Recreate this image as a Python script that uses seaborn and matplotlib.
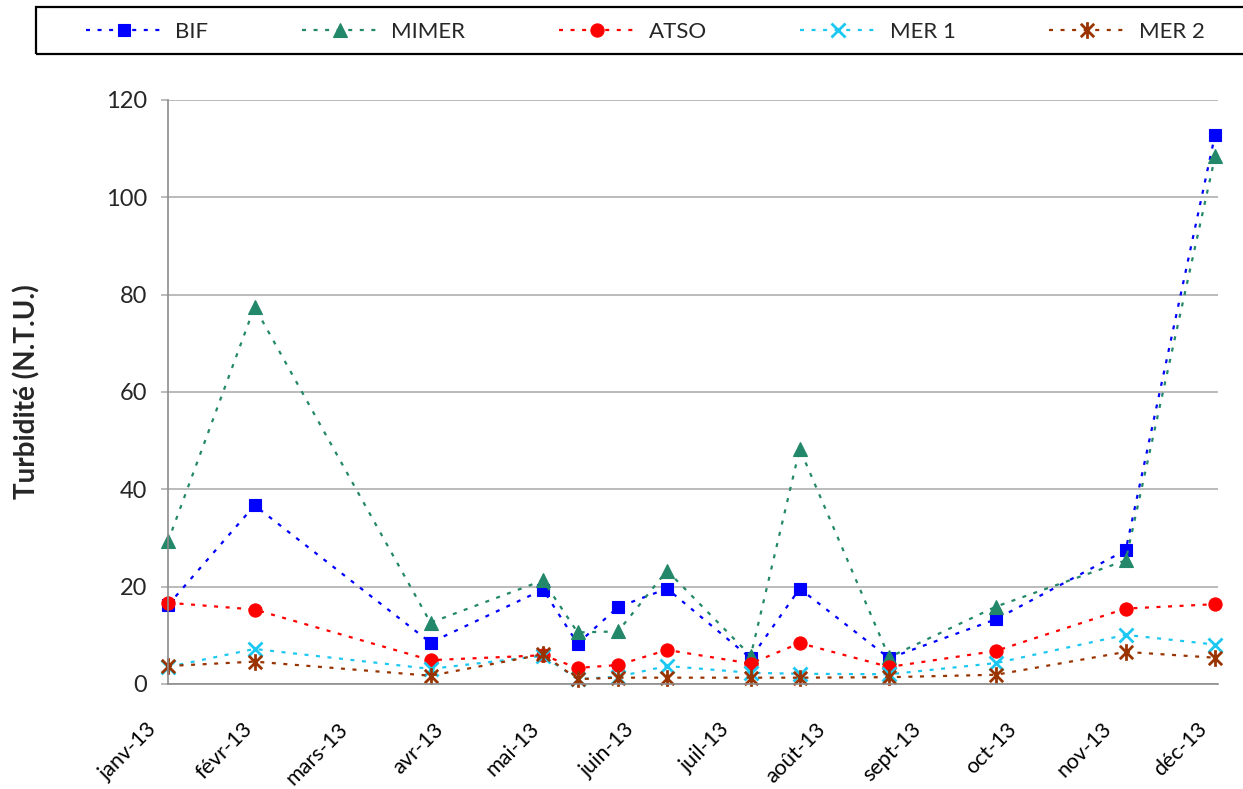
import numpy as np
import pandas as pd
import matplotlib
matplotlib.use("Agg")
import matplotlib.pyplot as plt
import matplotlib.dates as mdates
from matplotlib.path import Path
from matplotlib.patches import Rectangle
import seaborn as sns

# Sampling dates and turbidity readings (N.T.U.) per station
sample_dates = ["2013-01-01", "2013-01-31", "2013-04-02", "2013-05-11", "2013-05-23",
                "2013-06-06", "2013-06-23", "2013-07-22", "2013-08-08", "2013-09-08",
                "2013-10-15", "2013-11-29", "2013-12-30"]
bif = [16.2, 36.7, 8.5, 19.4, 8.3, 15.8, 19.6, 5.3, 19.6, 5.3, 13.3, 27.5, 112.9]
mimer = [29.3, 77.5, 12.6, 21.3, 10.6, 10.8, 23.3, 5.8, 48.3, 5.5, 15.9, 25.4, 108.4]
atso = [16.7, 15.3, 4.9, 5.9, 3.3, 3.9, 7.0, 4.2, 8.4, 3.5, 6.8, 15.5, 16.4]
mer1 = [3.5, 7.2, 3.1, 5.8, 1.0, 1.5, 3.7, 2.3, 2.1, 2.0, 4.3, 10.1, 8.1]
mer2 = [3.7, 4.6, 1.7, 6.1, 1.0, 1.3, 1.3, 1.3, 1.3, 1.4, 1.9, 6.6, 5.4]

series_names = ["BIF", "MIMER", "ATSO", "MER 1", "MER 2"]
month_labels = ["janv-13", "févr-13", "mars-13", "avr-13", "mai-13", "juin-13",
                "juil-13", "août-13", "sept-13", "oct-13", "nov-13", "déc-13"]
axis_start, axis_end = "2013-01-01", "2013-12-31"
y_ticks = [0, 20, 40, 60, 80, 100, 120]

sns.set_theme(style="white")
plt.rcParams["font.family"] = ["Lato", "DejaVu Sans"]

W, H = 1243, 789
fig = plt.figure(figsize=(W / 100, H / 100), dpi=100)
ax = fig.add_axes([168 / W, 1 - 684 / H, 1050 / W, 584 / H])

# Star marker: an X crossed by a vertical bar
star = Path([(0, -1), (0, 1), (-0.8, -0.8), (0.8, 0.8), (-0.8, 0.8), (0.8, -0.8)],
            [Path.MOVETO, Path.LINETO, Path.MOVETO, Path.LINETO, Path.MOVETO, Path.LINETO])

styles = [
    dict(color="#0000FF", marker="s", markersize=9, markeredgewidth=0.8),
    dict(color="#23886A", marker="^", markersize=10.5, markeredgewidth=0.8),
    dict(color="#FF0000", marker="o", markersize=9.5, markeredgewidth=0.8),
    dict(color="#1CC8F2", marker="x", markersize=9.5, markeredgewidth=2.0),
    dict(color="#993300", marker=star, markersize=12, markeredgewidth=2.0),
]

dates = pd.to_datetime(sample_dates)
for name, vals, st in zip(series_names, [bif, mimer, atso, mer1, mer2], styles):
    sns.lineplot(x=dates, y=vals, ax=ax, errorbar=None, label=name,
                 linestyle=(0, (1.8, 3.4)), linewidth=1.6,
                 markeredgecolor=st["color"], clip_on=False, **st)

leg_old = ax.get_legend()
if leg_old is not None:
    leg_old.remove()

# Twelve evenly spaced date ticks across the year; labels set slanted below
x0 = mdates.date2num(pd.Timestamp(axis_start))
x1 = mdates.date2num(pd.Timestamp(axis_end))
tick_pos = np.linspace(x0, x1, len(month_labels))
ax.set_xlim(x0, x1)
ax.set_xticks(tick_pos)
ax.set_xticklabels([])
for pos, lab in zip(tick_pos, month_labels):
    ax.annotate(lab, xy=(pos, 0), xycoords=("data", "axes fraction"),
                xytext=(-14, -42), textcoords="offset pixels",
                rotation=45, ha="right", va="center", rotation_mode="anchor",
                fontsize=15.5, color="black", annotation_clip=False)

ax.set_ylim(0, 120)
ax.set_yticks(y_ticks)
ax.set_yticklabels([str(v) for v in y_ticks], fontsize=17)

ax.set_xlabel("")
ax.set_ylabel("Turbidité (N.T.U.)", fontsize=20, fontweight="bold")
ax.yaxis.set_label_coords((40 - 168) / 1050, 0.5)

ax.grid(False)
ax.yaxis.grid(True, color="#A8A8A8", linewidth=1.1)
for side in ["top", "right"]:
    ax.spines[side].set_visible(False)
for side in ["left", "bottom"]:
    ax.spines[side].set_color("#8C8C8C")
    ax.spines[side].set_linewidth(1.2)
ax.tick_params(axis="y", left=True, length=5, width=1.1, color="#A8A8A8", pad=10)
ax.tick_params(axis="x", bottom=False, length=0)

# Legend row across the top, inside a plain black box
handles, labels = ax.get_legend_handles_labels()
fig.legend(handles, labels, loc="center left",
           bbox_to_anchor=(86 / W, 1 - 31.5 / H), ncol=5, frameon=False,
           fontsize=16, handlelength=3.42, handletextpad=0.6,
           columnspacing=4.22, borderaxespad=0, borderpad=0)
fig.add_artist(Rectangle((36 / W, 1 - 54 / H), (1260 - 36) / W, 47 / H,
                         transform=fig.transFigure, fill=False,
                         edgecolor="black", linewidth=1.6, clip_on=False))

fig.savefig("out.png", dpi=100, facecolor="white")
